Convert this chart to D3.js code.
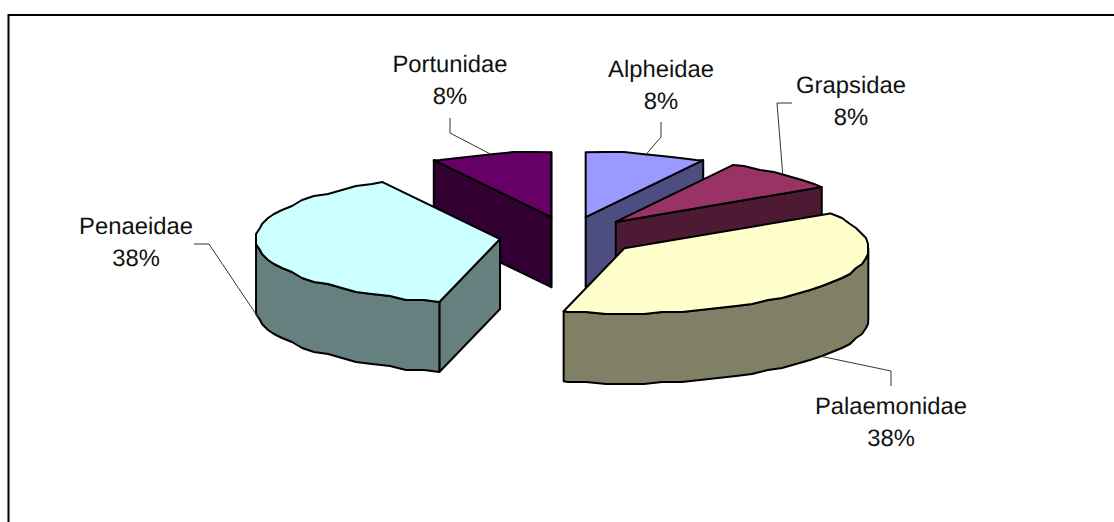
<!DOCTYPE html>
<html>
<head>
<meta charset="utf-8">
<script src="https://cdn.jsdelivr.net/npm/d3@7"></script>
<style>
  html, body { margin: 0; padding: 0; background: #fff; overflow: hidden; }
  svg { display: block; }
  text { font-family: "Liberation Sans", Arial, sans-serif; fill: #111; text-rendering: geometricPrecision; }
</style>
</head>
<body>
<div id="chart"></div>
<script>
var families = ['Alpheidae', 'Grapsidae', 'Palaemonidae', 'Penaeidae', 'Portunidae'];
var shares = [8, 8, 38, 38, 8];
var topColors = ['#9999ff', '#993366', '#ffffcc', '#ccffff', '#660066'];

var width = 1114,
    height = 522;

// pie geometry on screen
var centerX = 568.5,
    centerY = 236.5,
    radiusX = 244,
    radiusY = 65,
    depth = 70,
    explodeX = 69,
    explodeY = 20,
    edgeGrid = 2,
    edgeStep = 4.5 * Math.PI / 180;

// text centre and leader bend for each family
var labelX = [661, 851, 891, 136, 450],
    labelY = [77, 93, 414, 234, 72],
    elbows = [
        [[661, 122], [661, 137]],
        [[792, 103], [777, 103]],
        [[891, 386], [891, 371]],
        [[194, 244], [209, 244]],
        [[450, 118], [450, 133]]
    ];
var fontSize = 23.8,
    lineGap = 32;

var svg = d3.select('#chart').append('svg')
    .attr('width', width)
    .attr('height', height);

// chart area border, only top and left fall inside the window
svg.append('path')
    .attr('d', 'M8.5,' + height + 'V15H' + width)
    .attr('fill', 'none')
    .attr('stroke', '#000')
    .attr('stroke-width', 2);

var slices = d3.pie().sort(null)(shares).map(function (d, i) {
    var mid = (d.startAngle + d.endAngle) / 2;
    return {
        i: i,
        start: d.startAngle,
        end: d.endAngle,
        mid: mid,
        cx: centerX + explodeX * Math.sin(mid),
        cy: centerY - explodeY * Math.cos(mid)
    };
});

function rimPoint(s, a) {
    return [s.cx + radiusX * Math.sin(a), s.cy - radiusY * Math.cos(a)];
}

// rim as a short-segment polyline snapped to a coarse grid; angles come from
// one fixed step so the top face and the outer wall share the same vertices
function rim(s, from, to) {
    var pts = [rimPoint(s, from)];
    var first = Math.floor(from / edgeStep + 1e-6) + 1,
        last = Math.ceil(to / edgeStep - 1e-6) - 1;
    d3.range(first, last + 1).forEach(function (k) {
        var p = rimPoint(s, k * edgeStep);
        pts.push([Math.round(p[0] / edgeGrid) * edgeGrid, Math.round(p[1] / edgeGrid) * edgeGrid]);
    });
    pts.push(rimPoint(s, to));
    return pts;
}

function drop(p) { return [p[0], p[1] + depth]; }

var line = d3.line();

function darker(c) {
    var rgb = d3.rgb(c);
    return d3.rgb(rgb.r / 2, rgb.g / 2, rgb.b / 2).formatHex();
}

// back slices first so the near ones sit on top
var drawOrder = [4, 0, 1, 3, 2];

drawOrder.forEach(function (idx) {
    var s = slices[idx];
    var g = svg.append('g');
    var apex = [s.cx, s.cy];
    var sideColor = darker(topColors[idx]);
    var style = function (sel, fill) {
        sel.attr('fill', fill)
            .attr('stroke', '#000')
            .attr('stroke-width', 2)
            .attr('stroke-linejoin', 'round');
    };

    if (Math.sin(s.start) < 0) {
        var a = rimPoint(s, s.start);
        g.append('path')
            .attr('d', line([apex, a, drop(a), drop(apex)]) + 'Z')
            .call(style, sideColor);
    }
    if (Math.sin(s.end) > 0) {
        var b = rimPoint(s, s.end);
        g.append('path')
            .attr('d', line([apex, b, drop(b), drop(apex)]) + 'Z')
            .call(style, sideColor);
    }

    // curved outer wall faces the viewer between 90 and 270 degrees
    var wallFrom = Math.max(s.start, Math.PI / 2),
        wallTo = Math.min(s.end, 3 * Math.PI / 2);
    if (wallFrom < wallTo) {
        var upper = rim(s, wallFrom, wallTo);
        var lower = upper.slice().reverse().map(drop);
        g.append('path')
            .attr('d', line(upper.concat(lower)) + 'Z')
            .call(style, sideColor);
    }

    g.append('path')
        .attr('d', line([apex].concat(rim(s, s.start, s.end))) + 'Z')
        .call(style, topColors[idx]);
});

// leader lines end on the rim at the middle of each slice
slices.forEach(function (s) {
    var anchor = rimPoint(s, s.mid);
    if (Math.cos(s.mid) < 0) anchor = drop(anchor);
    svg.append('path')
        .attr('d', line(elbows[s.i].concat([anchor])))
        .attr('fill', 'none')
        .attr('stroke', '#333')
        .attr('stroke-width', 1);
});

families.forEach(function (name, i) {
    var label = svg.append('text')
        .attr('text-anchor', 'middle')
        .attr('font-size', fontSize);
    label.append('tspan')
        .attr('x', labelX[i])
        .attr('y', labelY[i])
        .text(name);
    label.append('tspan')
        .attr('x', labelX[i])
        .attr('y', labelY[i] + lineGap)
        .text(shares[i] + '%');
});
</script>
</body>
</html>
